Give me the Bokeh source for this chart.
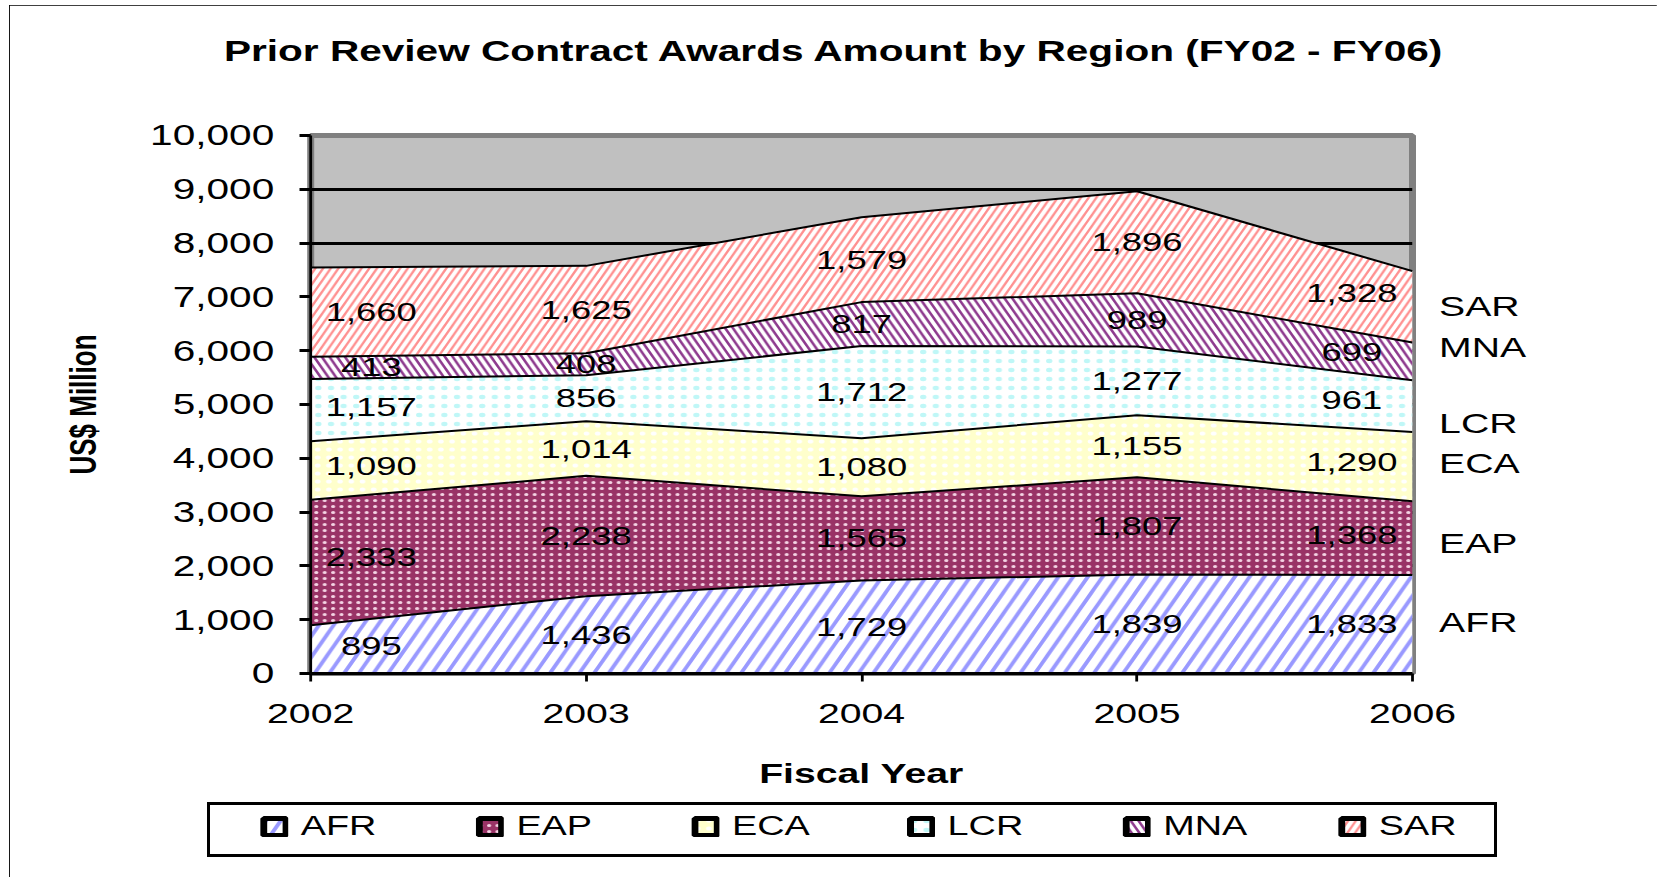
import numpy as np
from bokeh.plotting import figure
from bokeh.models import (ColumnDataSource, Range1d, FixedTicker, NumeralTickFormatter,
                          LabelSet, Legend, LegendItem, LinearAxis, InlineStyleSheet)
from bokeh.core.properties import value
from bokeh.embed import file_html
from bokeh.resources import INLINE

# ---------------- data ----------------
years = [2002, 2003, 2004, 2005, 2006]
regions = ["AFR", "EAP", "ECA", "LCR", "MNA", "SAR"]
afr = [895, 1436, 1729, 1839, 1833]
eap = [2333, 2238, 1565, 1807, 1368]
eca = [1090, 1014, 1080, 1155, 1290]
lcr = [1157, 856, 1712, 1277, 961]
mna = [413, 408, 817, 989, 699]
sar = [1660, 1625, 1579, 1896, 1328]
series = [afr, eap, eca, lcr, mna, sar]
y_ticks = [0, 1000, 2000, 3000, 4000, 5000, 6000, 7000, 8000, 9000, 10000]
title_text = "Prior Review Contract Awards Amount by Region (FY02 - FY06)"
x_label = "Fiscal Year"
y_label = "US$ Million"

# ---------------- styles ----------------
FONT = "Liberation Sans"
styles = {
    "AFR": dict(fill_color="#FFFFFF", hatch_pattern="/", hatch_color="#9999FF", hatch_weight=3, hatch_scale=21),
    "EAP": dict(fill_color="#993366", hatch_pattern=".", hatch_color="#F4D4E4", hatch_weight=2, hatch_scale=6),
    "ECA": dict(fill_color="#FFFFCC", hatch_pattern=".", hatch_color="#FFFFFF", hatch_weight=1.5, hatch_scale=8),
    "LCR": dict(fill_color="#FFFFFF", hatch_pattern=".", hatch_color="#BFF7F7", hatch_weight=2, hatch_scale=9),
    "MNA": dict(fill_color="#FFFFFF", hatch_pattern="\\", hatch_color="#8E3A8E", hatch_weight=2, hatch_scale=11),
    "SAR": dict(fill_color="#FFFFFF", hatch_pattern="/", hatch_color="#FF9090", hatch_weight=1.8, hatch_scale=11),
}
name_nudge = [29, -105, 50, -333, 266, 13]   # data units, placement of the right-hand names
inset = 0.22                                  # value-label inset at both ends, in years
SX = 1.4                                      # horizontal stretch of the drawing

W, H = 1177, 872
p = figure(width=W, height=H, x_range=Range1d(2002, 2006), y_range=Range1d(0, 10000),
           output_backend="svg", toolbar_location=None,
           min_border_left=215, min_border_right=175, min_border_top=129, min_border_bottom=204)
p.stylesheets = [InlineStyleSheet(css=f"""
:host {{ position: relative; overflow: visible !important; }}
:host > div {{ transform: translate(9px, 5px) scaleX({SX}); transform-origin: 0 0;
              outline: 3px solid black; outline-offset: -3px; }}
:host::after {{ content: ""; position: absolute; left: 207px; top: 802px; width: 1290px;
               height: 55px; box-sizing: border-box; border: 3px solid black;
               pointer-events: none; z-index: 5; }}
""")]
p.background_fill_color = "#C0C0C0"
p.border_fill_color = "white"
p.outline_line_color = "#808080"
p.outline_line_width = 5

p.title.text = title_text
p.title.align = "left"
p.title.vertical_align = "top"
p.title.text_font = FONT
p.title.text_font_size = "29px"
p.title.text_font_style = "bold"
p.title.text_color = "black"
p.title.standoff = 59
p.title.padding = dict(left=0, right=0, top=0, bottom=37)
p.title.offset = -62

# axes
yax = p.yaxis[0]
yax.ticker = FixedTicker(ticks=y_ticks)
yax.formatter = NumeralTickFormatter(format="0,0")
yax.major_label_text_font = FONT
yax.major_label_text_font_size = "29px"
yax.major_label_text_color = "black"
yax.major_tick_out = 8
yax.major_tick_in = 0
yax.minor_tick_out = 0
yax.minor_tick_in = 0
yax.axis_line_width = 2
yax.major_tick_line_width = 3
yax.major_label_standoff = 18
yax.axis_label = y_label
yax.axis_label_text_font = FONT
yax.axis_label_text_font_size = "26px"
yax.axis_label_text_font_style = "bold"
yax.axis_label_text_color = "black"
yax.axis_label_standoff = 30

xax = p.xaxis[0]
xax.ticker = FixedTicker(ticks=years)
xax.major_label_text_font = FONT
xax.major_label_text_font_size = "28px"
xax.major_label_text_color = "black"
xax.major_tick_out = 8
xax.major_tick_in = 0
xax.minor_tick_out = 0
xax.minor_tick_in = 0
xax.axis_line_width = 3
xax.major_tick_line_width = 2
xax.major_label_standoff = 23
xax.axis_label = x_label
xax.axis_label_text_font = FONT
xax.axis_label_text_font_size = "28px"
xax.axis_label_text_font_style = "bold"
xax.axis_label_text_color = "black"
xax.axis_label_standoff = 32

p.xgrid.visible = False
p.ygrid.ticker = FixedTicker(ticks=y_ticks)
p.ygrid.grid_line_color = "black"
p.ygrid.grid_line_width = 3

# stacked areas
bottom = np.zeros(len(years))
layers = []
for name, vals in zip(regions, series):
    top = bottom + np.array(vals, dtype=float)
    src = ColumnDataSource(dict(year=years, bottom=bottom.copy(), top=top.copy()))
    p.varea(x="year", y1="bottom", y2="top", source=src, **styles[name])
    layers.append((name, vals, bottom.copy(), top.copy(), src))
    bottom = top

for name, vals, b, t, src in layers:
    p.line(x="year", y="top", source=src, line_color="black", line_width=2)

# value labels
label_x = [years[0] + inset] + years[1:-1] + [years[-1] - inset]
for name, vals, b, t, src in layers:
    yb = np.interp(label_x, years, b)
    yt = np.interp(label_x, years, t)
    lsrc = ColumnDataSource(dict(x=label_x, y=(yb + yt) / 2, text=[f"{v:,}" for v in vals]))
    p.add_layout(LabelSet(x="x", y="y", text="text", source=lsrc, text_align="center",
                          text_baseline="middle", text_font=value(FONT), text_font_size="26px",
                          text_color="black"))

# region names on the right (a label-only axis)
mids = [(b[-1] + t[-1]) / 2 for name, vals, b, t, src in layers]
name_pos = [int(round(m + d)) for m, d in zip(mids, name_nudge)]
rax = LinearAxis(ticker=FixedTicker(ticks=name_pos),
                 major_label_overrides={pos: nm for pos, nm in zip(name_pos, regions)},
                 axis_line_color=None, major_tick_line_color=None, minor_tick_line_color=None,
                 major_tick_out=0, major_tick_in=0, minor_tick_out=0, minor_tick_in=0,
                 major_label_standoff=19, major_label_text_font=FONT,
                 major_label_text_font_size="28px", major_label_text_color="black")
p.add_layout(rax, "right")

# legend strip: its own small transparent figure, placed under the chart
LW, LH = 922, 55
lf = figure(width=LW, height=LH, x_range=Range1d(0, 1), y_range=Range1d(0, 1),
            output_backend="svg", toolbar_location=None, x_axis_location=None,
            y_axis_location=None, title_location=None, min_border=0)
lf.outline_line_color = None
lf.background_fill_alpha = 0
lf.border_fill_alpha = 0
lf.xgrid.visible = False
lf.ygrid.visible = False
lf.stylesheets = [InlineStyleSheet(css=f"""
:host {{ position: absolute !important; left: 0; top: 0; overflow: visible !important; }}
:host > div {{ transform: translate(207px, 802px) scaleX({SX}); transform-origin: 0 0; }}
""")]
items = []
for name in regions:
    r = lf.rect(x=[np.nan], y=[np.nan], width=1, height=1, line_color="black",
                line_width=5, **styles[name])
    items.append(LegendItem(label=value(name), renderers=[r]))
legend = Legend(items=items, orientation="horizontal", location=(38, 15), padding=0,
                spacing=15, margin=0, border_line_alpha=0, background_fill_alpha=0,
                glyph_width=20, glyph_height=21, label_standoff=9, label_width=110,
                label_height=30, label_text_font=FONT, label_text_font_size="27px",
                label_text_color="black")
lf.add_layout(legend)

open("out.html", "w").write(file_html([p, lf], INLINE))
